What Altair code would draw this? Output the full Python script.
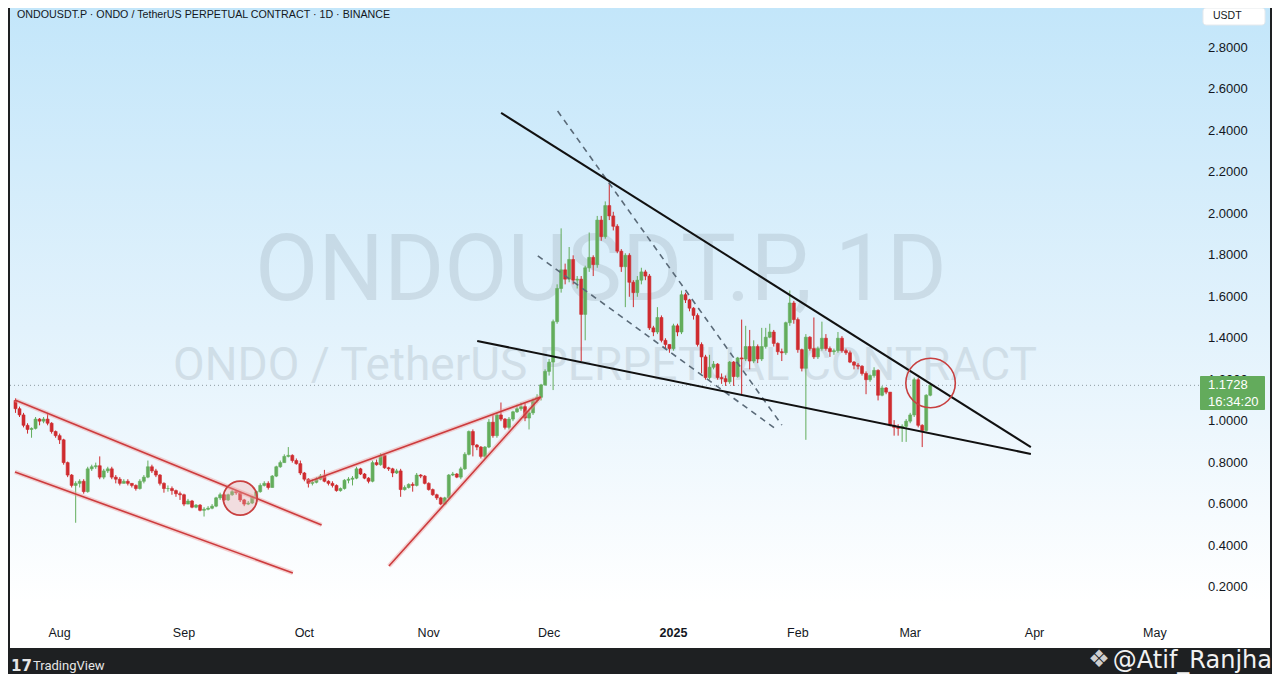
import altair as alt
import pandas as pd
import numpy as np

# ---------------- data ----------------
start_date = "2024-07-21"
first_open = 1.10
close = [
    1.06, 1.03, 0.98, 0.96, 0.965, 1.01, 1.00, 1.01, 0.99, 0.95,
    0.93, 0.91, 0.80, 0.74, 0.69, 0.70, 0.71, 0.66, 0.77, 0.78,
    0.785, 0.73, 0.76, 0.77, 0.73, 0.72, 0.70, 0.71, 0.70, 0.69,
    0.675, 0.71, 0.73, 0.78, 0.76, 0.74, 0.70, 0.675, 0.675, 0.665,
    0.65, 0.645, 0.60, 0.615, 0.585, 0.595, 0.57, 0.575, 0.58, 0.59,
    0.63, 0.645, 0.62, 0.645, 0.66, 0.655, 0.62, 0.60, 0.605, 0.635,
    0.66, 0.69, 0.70, 0.68, 0.735, 0.78, 0.80, 0.83, 0.835, 0.81,
    0.795, 0.75, 0.72, 0.70, 0.705, 0.72, 0.735, 0.71, 0.70, 0.69,
    0.665, 0.675, 0.715, 0.72, 0.725, 0.77, 0.745, 0.725, 0.71, 0.80,
    0.79, 0.835, 0.775, 0.77, 0.75, 0.76, 0.67, 0.68, 0.695, 0.69,
    0.74, 0.735, 0.70, 0.67, 0.645, 0.63, 0.60, 0.63, 0.74, 0.745,
    0.73, 0.77, 0.84, 0.95, 0.885, 0.875, 0.83, 0.875, 0.995, 0.93,
    1.03, 1.01, 0.97, 1.01, 1.045, 1.06, 1.07, 1.015, 1.04, 1.10,
    1.115, 1.175, 1.24, 1.285, 1.48, 1.64, 1.73, 1.685, 1.78, 1.68,
    1.685, 1.515, 1.74, 1.79, 1.755, 1.97, 1.89, 2.04, 1.99, 1.94,
    1.82, 1.745, 1.80, 1.67, 1.62, 1.68, 1.72, 1.70, 1.45, 1.43,
    1.50, 1.39, 1.37, 1.35, 1.46, 1.43, 1.61, 1.585, 1.545, 1.51,
    1.37, 1.31, 1.21, 1.26, 1.275, 1.21, 1.205, 1.19, 1.285, 1.215,
    1.305, 1.30, 1.36, 1.29, 1.36, 1.30, 1.36, 1.405, 1.43, 1.375,
    1.335, 1.33, 1.475, 1.57, 1.49, 1.345, 1.255, 1.405, 1.35, 1.31,
    1.35, 1.40, 1.35, 1.335, 1.34, 1.40, 1.34, 1.33, 1.285, 1.27,
    1.265, 1.23, 1.20, 1.22, 1.245, 1.125, 1.16, 1.14, 0.98, 0.97,
    0.965, 0.975, 1.00, 1.03, 1.20, 0.98, 0.955, 1.125, 1.1728,
]
high = [
    1.11, 1.07, 1.04, 0.99, 0.97, 1.02, 1.015, 1.02, 1.04, 0.995,
    0.955, 0.94, 0.915, 0.805, 0.745, 0.71, 0.72, 0.72, 0.78, 0.79,
    0.80, 0.83, 0.77, 0.78, 0.78, 0.74, 0.73, 0.72, 0.72, 0.70,
    0.695, 0.72, 0.74, 0.81, 0.79, 0.77, 0.745, 0.705, 0.69, 0.685,
    0.67, 0.66, 0.65, 0.625, 0.62, 0.60, 0.60, 0.585, 0.59, 0.60,
    0.635, 0.655, 0.65, 0.65, 0.67, 0.665, 0.66, 0.625, 0.615, 0.64,
    0.665, 0.70, 0.71, 0.71, 0.74, 0.785, 0.81, 0.84, 0.875, 0.84,
    0.82, 0.81, 0.755, 0.725, 0.72, 0.73, 0.745, 0.765, 0.715, 0.71,
    0.695, 0.68, 0.72, 0.73, 0.735, 0.78, 0.775, 0.75, 0.73, 0.81,
    0.815, 0.845, 0.84, 0.78, 0.775, 0.77, 0.77, 0.69, 0.70, 0.705,
    0.75, 0.745, 0.74, 0.705, 0.675, 0.65, 0.635, 0.635, 0.745, 0.755,
    0.75, 0.78, 0.85, 0.955, 0.96, 0.89, 0.88, 0.88, 1.01, 1.03,
    1.04, 1.09, 1.015, 1.02, 1.05, 1.08, 1.09, 1.09, 1.05, 1.11,
    1.13, 1.18, 1.25, 1.30, 1.49, 1.66, 1.93, 1.76, 1.84, 1.80,
    1.70, 1.70, 1.75, 1.91, 1.80, 1.99, 1.99, 2.06, 2.15, 2.01,
    1.95, 1.83, 1.81, 1.81, 1.68, 1.70, 1.74, 1.73, 1.71, 1.46,
    1.55, 1.51, 1.40, 1.37, 1.47, 1.47, 1.63, 1.62, 1.59, 1.55,
    1.52, 1.38, 1.32, 1.32, 1.29, 1.28, 1.23, 1.22, 1.29, 1.29,
    1.31, 1.49, 1.46, 1.44, 1.39, 1.37, 1.45, 1.45, 1.47, 1.44,
    1.38, 1.35, 1.48, 1.63, 1.58, 1.50, 1.35, 1.42, 1.41, 1.50,
    1.36, 1.48, 1.42, 1.36, 1.35, 1.43, 1.41, 1.35, 1.34, 1.29,
    1.28, 1.27, 1.24, 1.225, 1.26, 1.25, 1.17, 1.165, 1.14, 1.005,
    0.985, 0.985, 1.01, 1.04, 1.21, 1.21, 0.985, 1.13, 1.185,
]
low = [
    1.04, 1.02, 0.97, 0.94, 0.92, 0.96, 0.98, 0.99, 0.98, 0.94,
    0.92, 0.89, 0.79, 0.73, 0.68, 0.51, 0.68, 0.65, 0.655, 0.76,
    0.77, 0.72, 0.72, 0.75, 0.72, 0.70, 0.69, 0.70, 0.69, 0.68,
    0.665, 0.67, 0.70, 0.725, 0.75, 0.73, 0.69, 0.655, 0.66, 0.645,
    0.635, 0.62, 0.59, 0.60, 0.58, 0.58, 0.565, 0.54, 0.57, 0.575,
    0.585, 0.62, 0.615, 0.615, 0.64, 0.645, 0.61, 0.59, 0.595, 0.60,
    0.63, 0.655, 0.685, 0.67, 0.68, 0.73, 0.775, 0.80, 0.825, 0.80,
    0.79, 0.74, 0.71, 0.68, 0.69, 0.70, 0.715, 0.705, 0.69, 0.68,
    0.66, 0.66, 0.67, 0.70, 0.69, 0.72, 0.74, 0.72, 0.70, 0.705,
    0.785, 0.785, 0.77, 0.76, 0.73, 0.745, 0.635, 0.665, 0.675, 0.66,
    0.685, 0.725, 0.695, 0.665, 0.64, 0.62, 0.595, 0.595, 0.625, 0.735,
    0.725, 0.72, 0.765, 0.835, 0.83, 0.86, 0.82, 0.82, 0.87, 0.92,
    0.92, 1.00, 0.96, 0.96, 1.00, 1.04, 1.05, 1.00, 0.96, 1.03,
    1.09, 1.10, 1.17, 1.22, 1.15, 1.47, 1.62, 1.66, 1.67, 1.66,
    1.64, 1.29, 1.39, 1.72, 1.70, 1.74, 1.87, 1.88, 1.97, 1.92,
    1.81, 1.72, 1.55, 1.60, 1.55, 1.60, 1.66, 1.68, 1.44, 1.41,
    1.42, 1.38, 1.35, 1.33, 1.34, 1.41, 1.42, 1.57, 1.53, 1.49,
    1.36, 1.23, 1.20, 1.20, 1.25, 1.20, 1.18, 1.17, 1.18, 1.17,
    1.21, 1.13, 1.29, 1.25, 1.28, 1.28, 1.29, 1.35, 1.40, 1.36,
    1.32, 1.29, 1.32, 1.46, 1.47, 1.33, 1.24, 0.91, 1.34, 1.30,
    1.30, 1.34, 1.34, 1.31, 1.32, 1.33, 1.33, 1.32, 1.28, 1.25,
    1.25, 1.22, 1.13, 1.19, 1.21, 1.10, 1.12, 1.13, 0.975, 0.93,
    0.93, 0.90, 0.90, 0.99, 1.02, 0.97, 0.875, 0.95, 1.12,
]

# hand-drawn trend lines: (line id, date, price)
red_lines = [
    ("c1", "2024-07-20T21:00:00Z", 1.102), ("c1", "2024-10-05T07:00:00Z", 0.499),
    ("c2", "2024-07-20T21:00:00Z", 0.755), ("c2", "2024-09-28T03:00:00Z", 0.268),
    ("w1", "2024-10-01T20:00:00Z", 0.707), ("w1", "2024-11-28T22:00:00Z", 1.117),
    ("w2", "2024-10-22T02:00:00Z", 0.301), ("w2", "2024-11-28T22:00:00Z", 1.117),
]
black_lines = [
    ("b1", "2024-11-19T01:00:00Z", 2.487), ("b1", "2025-03-31T02:00:00Z", 0.875),
    ("b2", "2024-11-13T02:00:00Z", 1.387), ("b2", "2025-03-31T02:00:00Z", 0.842),
]
dashed_lines = [
    ("d1", "2024-12-03T03:00:00Z", 2.496), ("d1", "2025-01-28T00:30:00Z", 0.981),
    ("d2", "2024-11-28T04:30:00Z", 1.797), ("d2", "2025-01-26T13:00:00Z", 0.962),
]
circle_small = [("2024-09-15T00:00:00Z", 0.629)]
circle_big = [("2025-03-06T02:00:00Z", 1.184)]

month_ticks = ["2024-08-01", "2024-09-01", "2024-10-01", "2024-11-01", "2024-12-01",
               "2025-02-01", "2025-03-01", "2025-04-01", "2025-05-01"]
month_labels = ["Aug", "Sep", "Oct", "Nov", "Dec", "Feb", "Mar", "Apr", "May"]
year_tick = ["2025-01-01"]
year_label = ["2025"]
price_ticks = [0.2, 0.4, 0.6, 0.8, 1.0, 1.2, 1.4, 1.6, 1.8, 2.0, 2.2, 2.4, 2.6, 2.8]

title_text = "ONDOUSDT.P · ONDO / TetherUS PERPETUAL CONTRACT · 1D · BINANCE"
wm_big = "ONDOUSDT.P, 1D"
wm_small = "ONDO / TetherUS PERPETUAL CONTRACT"
timer_text = "16:34:20"

# ---------------- tables ----------------
dates = pd.date_range(start_date, periods=len(close), freq="D")
opens = [first_open] + close[:-1]
df = pd.DataFrame({"date": dates.strftime("%Y-%m-%d"), "open": opens,
                   "close": close, "high": high, "low": low})
df["dir"] = np.where(df["close"] >= df["open"], "up", "down")

def lines_df(rows):
    return pd.DataFrame(rows, columns=["id", "t", "p"])

red_df = lines_df(red_lines)
black_df = lines_df(black_lines)
dash_df = lines_df(dashed_lines)
c1_df = pd.DataFrame(circle_small, columns=["t", "p"])
c2_df = pd.DataFrame(circle_big, columns=["t", "p"])
months_df = pd.DataFrame({"m": month_ticks, "lab": month_labels})
year_df = pd.DataFrame({"m": year_tick, "lab": year_label})
prices_df = pd.DataFrame({"v": price_ticks, "lab": [f"{v:.4f}" for v in price_ticks]})
last_df = pd.DataFrame({"p": [close[-1]]})
one = pd.DataFrame({"a": [0]})

W, H = 1264, 666
origin = pd.Timestamp("2024-08-01", tz="UTC")
ms0 = int((origin - pd.Timedelta(days=11.622)).value // 10**6)
ms1 = int((origin + pd.Timedelta(days=300.94)).value // 10**6)
xs = alt.Scale(type="utc", domain=[ms0, ms1], nice=False)
ys = alt.Scale(domain=[-0.21968, 2.99305], nice=False, zero=False)
UP, DOWN = "#63ad5c", "#cf2b2f"
cscale = alt.Scale(domain=["up", "down"], range=[UP, DOWN])
FONT = "Liberation Sans"

grad = alt.Gradient(
    gradient="linear",
    stops=[alt.GradientStop(color="#c3e6fa", offset=0),
           alt.GradientStop(color="#e2f2fc", offset=0.5),
           alt.GradientStop(color="#ffffff", offset=0.93)],
    x1=0, x2=0, y1=0, y2=1)

bg = alt.Chart(one).mark_rect(fill=grad).encode(
    x=alt.value(2), x2=alt.value(1262), y=alt.value(0), y2=alt.value(640))

wm1 = alt.Chart(one).mark_text(text=wm_big, font="Roboto", fontSize=92, color="#7d8c97",
                               opacity=0.2, align="center", baseline="alphabetic").encode(
    x=alt.value(593), y=alt.value(292))
wm2 = alt.Chart(one).mark_text(text=wm_small, font="Roboto", fontSize=46, color="#7d8c97",
                               opacity=0.2, align="center", baseline="alphabetic").encode(
    x=alt.value(597), y=alt.value(372))

price_line = alt.Chart(last_df).mark_rule(color="#8e9aa3", strokeDash=[1, 3], strokeWidth=1).encode(
    y=alt.Y("p:Q", scale=ys, axis=None), x=alt.value(2), x2=alt.value(1192))

wick = alt.Chart(df).mark_rule(strokeWidth=1).encode(
    x=alt.X("date:T", scale=xs, axis=None),
    y=alt.Y("low:Q", scale=ys, axis=None), y2="high:Q",
    color=alt.Color("dir:N", scale=cscale, legend=None))

body = alt.Chart(df).mark_bar(size=3, strokeWidth=0.6).encode(
    x=alt.X("date:T", scale=xs, axis=None),
    y=alt.Y("open:Q", scale=ys, axis=None), y2="close:Q",
    fill=alt.Fill("dir:N", scale=cscale, legend=None),
    stroke=alt.Stroke("dir:N", scale=cscale, legend=None))

def line_layer(d, **kw):
    return alt.Chart(d).mark_line(**kw).encode(
        x=alt.X("t:T", scale=xs, axis=None),
        y=alt.Y("p:Q", scale=ys, axis=None),
        detail="id:N")

red_halo = line_layer(red_df, color="#ee9c9c", strokeWidth=4.5, opacity=0.45)
red_ln = line_layer(red_df, color="#cc3b3d", strokeWidth=1.6)
black_ln = line_layer(black_df, color="#111111", strokeWidth=2)
dash_ln = line_layer(dash_df, color="#5a6a78", strokeWidth=1.6, strokeDash=[6, 5])

circ1 = alt.Chart(c1_df).mark_point(shape="circle", filled=True, fill="#eba5a5", fillOpacity=0.35,
                                    stroke="#c84040", strokeWidth=1.8, size=1156, opacity=1).encode(
    x=alt.X("t:T", scale=xs, axis=None), y=alt.Y("p:Q", scale=ys, axis=None))
circ2 = alt.Chart(c2_df).mark_point(shape="circle", filled=False, stroke="#c84040",
                                    strokeWidth=1.6, size=2450, opacity=1).encode(
    x=alt.X("t:T", scale=xs, axis=None), y=alt.Y("p:Q", scale=ys, axis=None))

xlab = alt.Chart(months_df).mark_text(font=FONT, fontSize=12.5, color="#131722",
                                      align="center", baseline="middle").encode(
    x=alt.X("m:T", scale=xs, axis=None), y=alt.value(625), text="lab:N")
ylab_year = alt.Chart(year_df).mark_text(font=FONT, fontSize=12.5, fontWeight="bold", color="#131722",
                                         align="center", baseline="middle").encode(
    x=alt.X("m:T", scale=xs, axis=None), y=alt.value(625), text="lab:N")
ylab = alt.Chart(prices_df).mark_text(font=FONT, fontSize=13, color="#131722",
                                      align="left", baseline="middle").encode(
    y=alt.Y("v:Q", scale=ys, axis=None), x=alt.value(1200), text="lab:N")

price_box = alt.Chart(one).mark_rect(fill="#63ab5c", cornerRadius=1).encode(
    x=alt.value(1192), x2=alt.value(1257), y=alt.value(368), y2=alt.value(402))
price_txt = alt.Chart(last_df).mark_text(font=FONT, fontSize=13, color="#ffffff",
                                         align="left", baseline="middle").encode(
    x=alt.value(1200), y=alt.value(377), text=alt.Text("p:Q", format=".4f"))
timer_txt = alt.Chart(one).mark_text(text=timer_text, font=FONT, fontSize=13, color="#ffffff",
                                     align="left", baseline="middle").encode(
    x=alt.value(1200), y=alt.value(394))

usdt_box = alt.Chart(one).mark_rect(fill="#ffffff", cornerRadius=3, stroke="#e6e9ec").encode(
    x=alt.value(1195), x2=alt.value(1257), y=alt.value(0), y2=alt.value(17))
usdt_txt = alt.Chart(one).mark_text(text="USDT", font=FONT, fontSize=10.5, color="#131722",
                                    align="left", baseline="middle").encode(
    x=alt.value(1205), y=alt.value(7.5))

title = alt.Chart(one).mark_text(text=title_text, font=FONT, fontSize=10.7, color="#131722",
                                 align="left", baseline="middle").encode(
    x=alt.value(9), y=alt.value(6.5))

bottom = alt.Chart(one).mark_rect(fill="#1e2022").encode(
    x=alt.value(0), x2=alt.value(W), y=alt.value(640), y2=alt.value(H))
left_edge = alt.Chart(one).mark_rect(fill="#1e2022").encode(
    x=alt.value(0), x2=alt.value(2), y=alt.value(0), y2=alt.value(H))
right_edge = alt.Chart(one).mark_rect(fill="#1e2022").encode(
    x=alt.value(1262), x2=alt.value(W), y=alt.value(0), y2=alt.value(H))

tv_logo = alt.Chart(one).mark_text(text="17", font="DejaVu Sans", fontSize=15, fontWeight="bold",
                                   color="#e6e6e6", align="left", baseline="middle").encode(
    x=alt.value(3), y=alt.value(658))
tv_txt = alt.Chart(one).mark_text(text="TradingView", font="Roboto", fontSize=13, color="#e6e6e6",
                                  align="left", baseline="middle").encode(
    x=alt.value(25), y=alt.value(658))
bn_logo = alt.Chart(one).mark_text(text="❖", font="DejaVu Sans", fontSize=24, color="#cfcfcf",
                                   align="center", baseline="middle").encode(
    x=alt.value(1091), y=alt.value(652))
handle = alt.Chart(one).mark_text(text="@Atif_Ranjha", font="DejaVu Sans", fontSize=24,
                                  color="#f2f2f2", align="right", baseline="alphabetic").encode(
    x=alt.value(1264), y=alt.value(660))

chart = alt.layer(
    bg, wm1, wm2, price_line, wick, body,
    red_halo, red_ln, dash_ln, black_ln, circ1, circ2,
    xlab, ylab_year, ylab, price_box, price_txt, timer_txt,
    usdt_box, usdt_txt, title,
    bottom, left_edge, right_edge, tv_logo, tv_txt, bn_logo, handle,
).properties(
    width=W, height=H,
    autosize=alt.AutoSizeParams(type="none"),
    padding=0,
    background="#ffffff",
).configure_view(stroke=None)

chart.save("out.html", embed_options={"renderer": "svg", "actions": False})
